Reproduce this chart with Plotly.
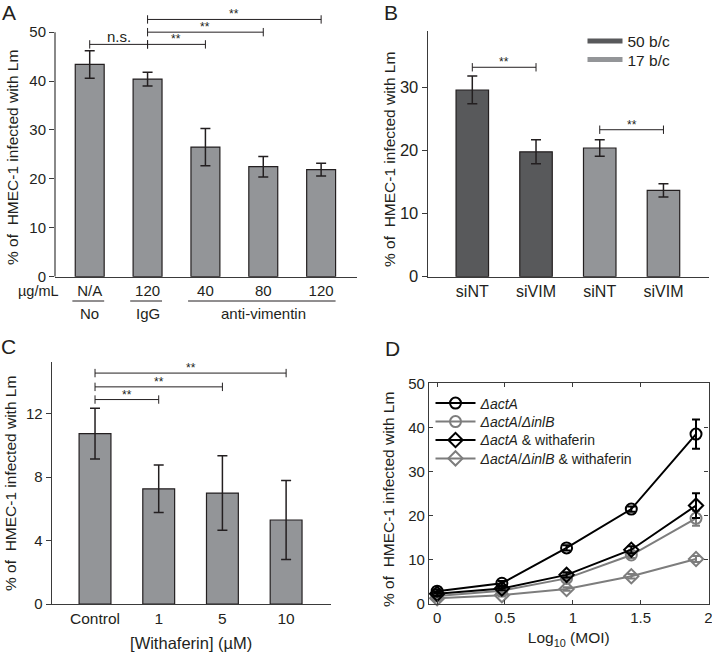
import plotly.graph_objects as go

# ---------------- data ----------------
# Panel A
a_labels = ["N/A", "120", "40", "80", "120"]
a_values = [43.4, 40.4, 26.5, 22.5, 21.9]
a_errors = [2.8, 1.4, 3.8, 2.1, 1.3]
a_groups = [("No", 0, 0), ("IgG", 1, 1), ("anti-vimentin", 2, 4)]
a_unit = "µg/mL"
a_sig = [(0, 1, 47.5, "n.s."), (1, 2, 47.5, "**"), (1, 3, 50.0, "**"), (1, 4, 52.6, "**")]

# Panel B
b_labels = ["siNT", "siVIM", "siNT", "siVIM"]
b_series = ["50 b/c", "17 b/c"]
b_values_50 = [29.6, 19.8]
b_errors_50 = [2.2, 1.9]
b_values_17 = [20.4, 13.7]
b_errors_17 = [1.3, 1.05]
b_sig = [(0, 1, 33.2, "**"), (2, 3, 23.3, "**")]

# Panel C
c_labels = ["Control", "1", "5", "10"]
c_values = [10.75, 7.27, 7.0, 5.3]
c_errors = [1.6, 1.5, 2.35, 2.5]
c_sig = [(0, 1, 12.9, "**"), (0, 2, 13.7, "**"), (0, 3, 14.57, "**")]

# Panel D
d_log_moi = [0.0, 0.477, 0.954, 1.431, 1.908]
d_names = ["<i>ΔactA</i>", "<i>ΔactA</i>/<i>ΔinlB</i>",
           "<i>ΔactA</i> & withaferin", "<i>ΔactA</i>/<i>ΔinlB</i> & withaferin"]
d_actA = [2.9, 4.7, 12.7, 21.5, 38.5]
d_actA_err = [0.4, 0.5, 0.6, 0.6, 3.3]
d_inlB = [1.8, 3.0, 5.8, 11.1, 19.4]
d_inlB_err = [0.3, 0.4, 0.5, 0.7, 1.7]
d_actA_w = [2.3, 3.5, 6.6, 12.3, 22.3]
d_actA_w_err = [0.4, 0.4, 0.6, 0.8, 2.8]
d_inlB_w = [1.3, 2.0, 3.4, 6.3, 10.2]
d_inlB_w_err = [0.2, 0.3, 0.4, 0.5, 0.7]

y_title = "% of\u00a0 HMEC-1 infected with Lm"

# ---------------- style ----------------
W, H = 712, 653
FONT = "Liberation Sans, Arial, sans-serif"
INK = "#231f20"
AXIS = "#3a3a3a"
BAR_LIGHT = "#939598"
BAR_DARK = "#58595b"
D_BLACK = "#000000"
D_GRAY = "#7d7d7d"


def px(x):
    return x / W


def py(y):
    return 1 - y / H


fig = go.Figure()
annotations = []
shapes = []


def err(arr, color=INK, width=5, thick=1.5):
    return dict(type="data", array=arr, color=color, thickness=thick, width=width, visible=True)


def bracket(xa, ya, x0, x1, h, label, fs):
    fig.add_trace(go.Scatter(
        x=[x0, x1], y=[h, h], mode="lines+markers", xaxis=xa, yaxis=ya,
        line=dict(color=INK, width=1),
        marker=dict(symbol="line-ns", size=6, color=INK, line=dict(color=INK, width=1)),
        showlegend=False, hoverinfo="skip"))
    annotations.append(dict(
        x=(x0 + x1) / 2, y=h, xref=xa, yref=ya, text=label, showarrow=False,
        xanchor="center", yanchor="bottom", yshift=-3 if label == "n.s." else -4,
        font=dict(family=FONT, size=fs, color=INK)))


# ---------------- Panel A ----------------
fig.add_trace(go.Bar(
    x=list(range(len(a_values))), y=a_values, width=0.5,
    error_y=err(a_errors),
    marker=dict(color=BAR_LIGHT, line=dict(color=INK, width=1.2)),
    xaxis="x", yaxis="y", showlegend=False))
for i, j, h, lab in a_sig:
    bracket("x", "y", i, j, h, lab, 15 if lab == "n.s." else 12)
shapes.append(dict(type="line", xref="x domain", yref="y", x0=0, x1=0, y0=0, y1=50,
                   line=dict(color=AXIS, width=1.2)))
annotations.append(dict(x=px(38), y=py(291), xref="paper", yref="paper", text=a_unit,
                        showarrow=False, xanchor="center", yanchor="middle",
                        font=dict(family=FONT, size=14.5, color=INK)))
for name, i, j in a_groups:
    shapes.append(dict(type="line", xref="x", yref="paper", x0=i - 0.3, x1=j + 0.25,
                       y0=py(301), y1=py(301), line=dict(color=INK, width=1)))
    annotations.append(dict(x=(i + j) / 2, y=py(313), xref="x", yref="paper", text=name,
                            showarrow=False, xanchor="center", yanchor="middle",
                            font=dict(family=FONT, size=15, color=INK)))

# ---------------- Panel B ----------------
fig.add_trace(go.Bar(
    x=[0, 1], y=b_values_50, width=0.51, error_y=err(b_errors_50),
    marker=dict(color=BAR_DARK, line=dict(color=INK, width=1.2)),
    xaxis="x2", yaxis="y2", showlegend=False))
fig.add_trace(go.Bar(
    x=[2, 3], y=b_values_17, width=0.51, error_y=err(b_errors_17),
    marker=dict(color=BAR_LIGHT, line=dict(color=INK, width=1.2)),
    xaxis="x2", yaxis="y2", showlegend=False))
for i, j, h, lab in b_sig:
    bracket("x2", "y2", i, j, h, lab, 12)
for k, (name, col) in enumerate(zip(b_series, [BAR_DARK, BAR_LIGHT])):
    fig.add_trace(go.Scatter(x=[None], y=[None], mode="lines", name=name,
                             line=dict(color=col, width=5), xaxis="x2", yaxis="y2",
                             legend="legend" if k == 0 else "legend2"))

# ---------------- Panel C ----------------
fig.add_trace(go.Bar(
    x=list(range(len(c_values))), y=c_values, width=0.5, error_y=err(c_errors),
    marker=dict(color=BAR_LIGHT, line=dict(color=INK, width=1.2)),
    xaxis="x3", yaxis="y3", showlegend=False))
for i, j, h, lab in c_sig:
    bracket("x3", "y3", i, j, h, lab, 12)

# ---------------- Panel D ----------------
d_series = [
    (d_actA, d_actA_err, D_BLACK, "circle-open"),
    (d_inlB, d_inlB_err, D_GRAY, "circle-open"),
    (d_actA_w, d_actA_w_err, D_BLACK, "diamond-open"),
    (d_inlB_w, d_inlB_w_err, D_GRAY, "diamond-open"),
]
order = [3, 1, 2, 0]
for k in order:
    ys, es, col, sym = d_series[k]
    fig.add_trace(go.Scatter(
        x=d_log_moi, y=ys, mode="lines+markers", name=d_names[k],
        line=dict(color=col, width=2),
        marker=dict(symbol=sym, size=11, color=col, line=dict(color=col, width=2)),
        error_y=err(es, color=col, width=4, thick=2),
        cliponaxis=False, xaxis="x4", yaxis="y4", legend="legend%d" % (k + 3)))

# ---------------- layout ----------------
tickfont = dict(family=FONT, size=15, color=INK)


def bar_x(dom, rng, labels, size=15):
    return dict(domain=dom, range=rng, tickmode="array", tickvals=list(range(len(labels))),
                ticktext=labels, ticks="", showline=True, linecolor=AXIS, linewidth=1.2,
                showgrid=False, zeroline=False, tickfont=dict(family=FONT, size=size, color=INK),
                fixedrange=True)


def bar_y(dom, rng, dtick, anchor, showline=True, size=15):
    return dict(domain=dom, range=rng, dtick=dtick, tick0=0, ticks="outside", ticklen=5,
                tickcolor=AXIS, tickwidth=1.2, showline=showline, linecolor=AXIS,
                linewidth=1.2, showgrid=False, zeroline=False, anchor=anchor,
                tickfont=dict(family=FONT, size=size, color=INK))


fig.update_layout(
    xaxis=dict(bar_x([px(55), px(357)], [-0.6, 4.62], a_labels), anchor="y"),
    yaxis=dict(bar_y([py(276.7), py(12.6)], [0, 54], 10, "x", showline=False),
               tickvals=[0, 10, 20, 30, 40, 50]),
    xaxis2=dict(bar_x([px(427.7), px(708.7)], [-0.7, 3.71], b_labels, 16), anchor="y2"),
    yaxis2=bar_y([py(276.7), py(30.7)], [0, 39], 10, "x2", size=16.5),
    xaxis3=dict(bar_x([px(51.7), px(330.7)], [-0.68, 3.70], c_labels, 15.5), anchor="y3",
                title=dict(text="[Withaferin] (µM)", standoff=11,
                           font=dict(family=FONT, size=16.5, color=INK))),
    yaxis3=dict(bar_y([py(604), py(362.3)], [0, 15.25], 4, "x3"),
                tickvals=[0, 4, 8, 12]),
    xaxis4=dict(domain=[px(429), px(708.5)], range=[-0.06, 2.0], anchor="y4",
                tickvals=[0, 0.5, 1, 1.5, 2], ticktext=["0", "0.5", "1", "1.5", "2"],
                ticks="inside", ticklen=4, tickcolor=AXIS, tickwidth=1.2, mirror="ticks",
                showline=True, linecolor=AXIS, linewidth=1.2, showgrid=False, zeroline=False,
                tickfont=tickfont, ticklabeloverflow="allow",
                title=dict(text="Log<sub>10</sub> (MOI)", standoff=7,
                           font=dict(family=FONT, size=15.5, color=INK))),
    yaxis4=dict(domain=[py(604), py(383.3)], range=[0, 50], dtick=10, anchor="x4",
                ticks="inside", ticklen=4, tickcolor=AXIS, tickwidth=1.2, mirror="ticks",
                showline=True, linecolor=AXIS, linewidth=1.2, showgrid=False, zeroline=False,
                tickfont=tickfont),
)

# legends
leg_common = dict(bgcolor="rgba(0,0,0,0)", borderwidth=0, xanchor="left", yanchor="middle",
                  orientation="v")
fig.update_layout(
    legend=dict(leg_common, x=px(582.5), y=py(41.3), itemwidth=35,
                font=dict(family=FONT, size=15.5, color=INK)),
    legend2=dict(leg_common, x=px(582.5), y=py(60), itemwidth=35,
                 font=dict(family=FONT, size=15.5, color=INK)),
)
d_rows = [403.5, 422.0, 440.4, 458.8]
for k, yy in enumerate(d_rows):
    fig.update_layout({"legend%d" % (k + 3): dict(leg_common, x=px(430.5), y=py(yy), itemwidth=40,
                                                  font=dict(family=FONT, size=14, color=INK))})

# y-axis titles
for (cx, cy, fs) in [(12, 158, 15.5), (389, 160, 15.5), (10, 484, 15.5), (388, 500, 15.5)]:
    annotations.append(dict(x=px(cx), y=py(cy), xref="paper", yref="paper", text=y_title,
                            textangle=-90, showarrow=False, xanchor="center", yanchor="middle",
                            font=dict(family=FONT, size=fs, color=INK)))

# panel letters
for (lab, cx, cy) in [("A", 9, 12.5), ("B", 391, 12.5), ("C", 8, 346), ("D", 392, 348)]:
    annotations.append(dict(x=px(cx), y=py(cy), xref="paper", yref="paper", text=lab,
                            showarrow=False, xanchor="center", yanchor="middle",
                            font=dict(family=FONT, size=21, color=INK)))

fig.update_layout(
    width=W, height=H, margin=dict(l=0, r=0, t=0, b=0, autoexpand=False),
    paper_bgcolor="white", plot_bgcolor="white",
    font=dict(family=FONT, color=INK),
    annotations=annotations, shapes=shapes,
    bargap=0.5, showlegend=True,
)

fig.write_html("out.html", config={"displayModeBar": False},
               post_script="document.body.style.margin='0';document.body.style.padding='0';")
